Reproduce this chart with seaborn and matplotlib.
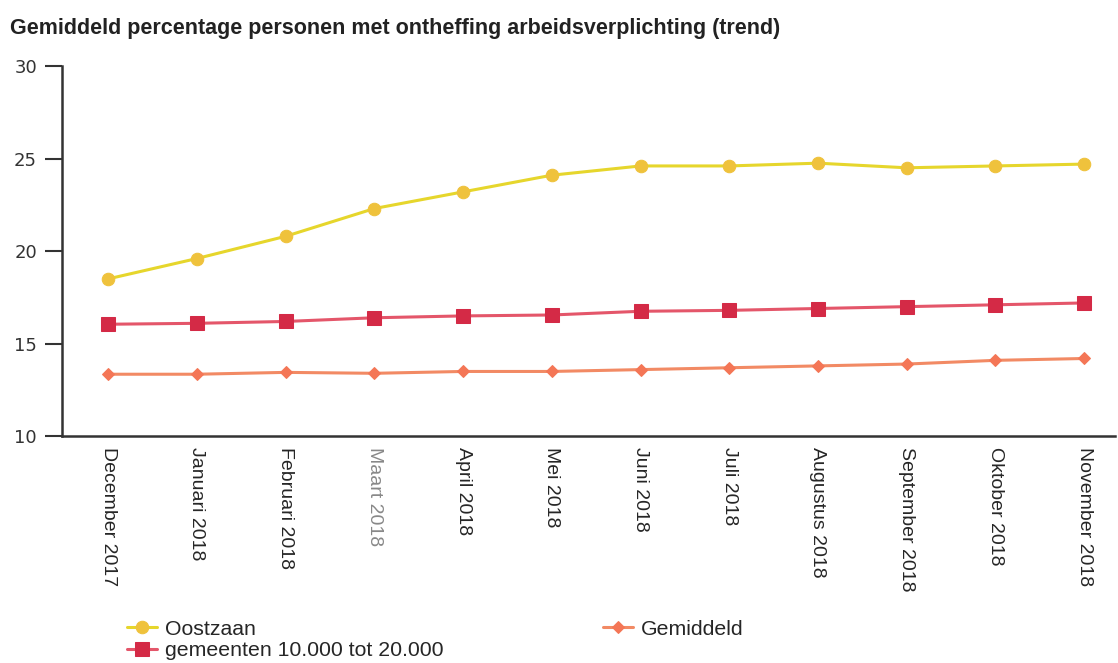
import matplotlib
matplotlib.use('Agg')
import matplotlib.pyplot as plt
import seaborn as sns
import pandas as pd

# Data
maanden = ['December 2017', 'Januari 2018', 'Februari 2018', 'Maart 2018', 'April 2018',
           'Mei 2018', 'Juni 2018', 'Juli 2018', 'Augustus 2018', 'September 2018',
           'Oktober 2018', 'November 2018']
oostzaan = [18.5, 19.6, 20.8, 22.3, 23.2, 24.1, 24.6, 24.6, 24.75, 24.5, 24.6, 24.7]
gemeenten = [16.05, 16.1, 16.2, 16.4, 16.5, 16.55, 16.75, 16.8, 16.9, 17.0, 17.1, 17.2]
gemiddeld = [13.35, 13.35, 13.45, 13.4, 13.5, 13.5, 13.6, 13.7, 13.8, 13.9, 14.1, 14.2]

sns.set_style('white')
plt.rcParams['font.family'] = ['Liberation Sans', 'DejaVu Sans']

fig = plt.figure(figsize=(11.18, 6.63), dpi=100)
ax = fig.add_axes([0.0555, 0.342, 0.942, 0.5585])

x = list(range(len(maanden)))
series = [
    ('Oostzaan', oostzaan, '#e6d62c', '#efc23c', 'o', 9),
    ('gemeenten 10.000 tot 20.000', gemeenten, '#e4566a', '#d42a46', 's', 10),
    ('Gemiddeld', gemiddeld, '#f28a64', '#f47656', 'D', 6),
]
for naam, waarden, lijnkleur, markkleur, mk, ms in series:
    df = pd.DataFrame({'x': x, 'y': waarden})
    sns.lineplot(data=df, x='x', y='y', ax=ax, color=lijnkleur, linewidth=2.2,
                 marker=mk, markersize=ms, markerfacecolor=markkleur,
                 markeredgecolor=markkleur, label=naam, legend=False)

ax.set_xlim(-0.52, 11.35)
ax.set_ylim(10, 30)
ax.set_yticks([10, 15, 20, 25, 30])
ax.set_xticks(x)
ax.set_xticklabels(maanden, rotation=270, ha='center', va='top', fontsize=14)
ax.get_xticklabels()[3].set_color('#888888')
for lbl in ax.get_yticklabels():
    lbl.set_family('DejaVu Sans')
    lbl.set_fontsize(13)
    lbl.set_color('#333333')
ax.tick_params(axis='y', length=12, width=1.5, color='#333333', left=True, pad=6)
ax.tick_params(axis='x', length=0, pad=8)
ax.set_xlabel('')
ax.set_ylabel('')
for side in ['top', 'right']:
    ax.spines[side].set_visible(False)
for side in ['left', 'bottom']:
    ax.spines[side].set_color('#333333')
    ax.spines[side].set_linewidth(1.8)

fig.text(0.009, 0.948, 'Gemiddeld percentage personen met ontheffing arbeidsverplichting (trend)',
         fontsize=15.5, fontweight='bold', color='#222222')

handles, labels = ax.get_legend_handles_labels()
fig.legend(handles, labels, loc='upper left', bbox_to_anchor=(0.1135, 0.065), ncol=2,
           frameon=False, fontsize=15.3, columnspacing=7.5, handlelength=1.4,
           handletextpad=0.4, labelspacing=0.1, borderpad=0, borderaxespad=0)

fig.savefig('out.png', dpi=100)
